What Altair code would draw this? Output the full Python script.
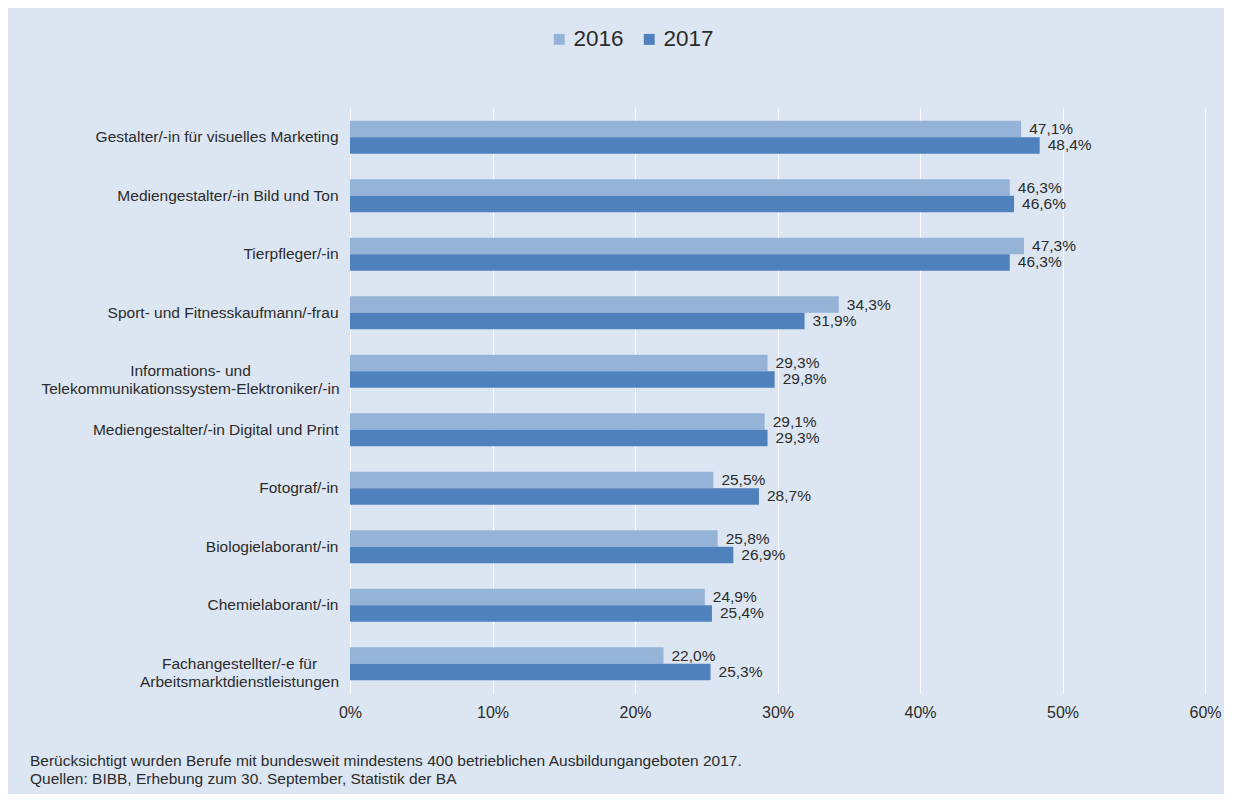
import altair as alt
import pandas as pd

categories = [
    "Gestalter/-in für visuelles Marketing",
    "Mediengestalter/-in Bild und Ton",
    "Tierpfleger/-in",
    "Sport- und Fitnesskaufmann/-frau",
    "Informations- und|Telekommunikationssystem-Elektroniker/-in",
    "Mediengestalter/-in Digital und Print",
    "Fotograf/-in",
    "Biologielaborant/-in",
    "Chemielaborant/-in",
    "Fachangestellter/-e für|Arbeitsmarktdienstleistungen",
]
values_2016 = [47.1, 46.3, 47.3, 34.3, 29.3, 29.1, 25.5, 25.8, 24.9, 22.0]
values_2017 = [48.4, 46.6, 46.3, 31.9, 29.8, 29.3, 28.7, 26.9, 25.4, 25.3]
years = ["2016", "2017"]
x_ticks = [0, 10, 20, 30, 40, 50, 60]
footnote = [
    "Berücksichtigt wurden Berufe mit bundesweit mindestens 400 betrieblichen Ausbildungangeboten  2017.",
    "Quellen: BIBB, Erhebung  zum  30. September, Statistik der BA",
]

rows = []
for c, a, b in zip(categories, values_2016, values_2017):
    rows.append({"cat": c, "year": years[0], "v": a})
    rows.append({"cat": c, "year": years[1], "v": b})
df = pd.DataFrame(rows)
df["lab"] = df["v"].map(lambda v: f"{v:.1f}".replace(".", ",") + "%")

FONT = "Liberation Sans"
TXT = "#2b2b2b"

y_enc = alt.Y(
    "cat:N", sort=categories, title=None,
    scale=alt.Scale(paddingInner=0.436, paddingOuter=0.218),
    axis=alt.Axis(
        labelExpr="split(datum.label, '|')", labelFontSize=15.5,
        labelColor=TXT, labelFont=FONT, ticks=False, domain=False,
        labelAlign={"condition": {"test": "indexof(datum.value, '|') >= 0", "value": "center"}, "value": "right"},
        labelPadding={"condition": [
            {"test": "indexof(datum.value, 'Telekom') >= 0", "value": 160},
            {"test": "indexof(datum.value, 'Arbeitsmarkt') >= 0", "value": 111},
        ], "value": 12},
        labelLimit=400, labelLineHeight=18,
    ),
)
yoff = alt.YOffset("year:N", sort=years, scale=alt.Scale(paddingInner=0, paddingOuter=0))
x_enc = alt.X(
    "v:Q", title=None,
    scale=alt.Scale(domain=[0, 60], nice=False),
    axis=alt.Axis(values=x_ticks, labelExpr="datum.value + '%'", grid=True,
                  gridColor="white", gridWidth=1, ticks=False, domain=False,
                  labelFlush=False,
                  labelFontSize=16, labelColor=TXT, labelFont=FONT, labelPadding=11),
)

bars = alt.Chart(df).mark_bar().encode(
    x=x_enc, y=y_enc, yOffset=yoff,
    color=alt.Color(
        "year:N", sort=years, title=None,
        scale=alt.Scale(domain=years, range=["#95b3d7", "#4f81bd"]),
        legend=alt.Legend(orient="none", legendX=198, legendY=-80, direction="horizontal",
                          symbolType="square", symbolSize=120, labelFontSize=22.5,
                          labelFont=FONT, labelColor=TXT, symbolStrokeWidth=0,
                          columnPadding=14, labelOffset=3),
    ),
)
texts = alt.Chart(df).mark_text(align="left", baseline="middle", dx=8, fontSize=15.5,
                                font=FONT, color=TXT).encode(
    x="v:Q", y=alt.Y("cat:N", sort=categories), yOffset=yoff, text="lab:N"
)

chart = (bars + texts).properties(
    width=855, height=585,
    autosize=alt.AutoSizeParams(type="none"),
    padding={"left": 342, "top": 100, "right": 19, "bottom": 101},
    background="#dce6f2",
    title=alt.Title(text=footnote, orient="bottom", anchor="start", frame="group",
                    dx=-320, offset=34, fontSize=15.5, fontWeight="normal", font=FONT,
                    color=TXT, lineHeight=18),
).configure_view(stroke=None, fill="#dce6f2")

chart.save("out.html", embed_options={"renderer": "svg", "actions": False})
